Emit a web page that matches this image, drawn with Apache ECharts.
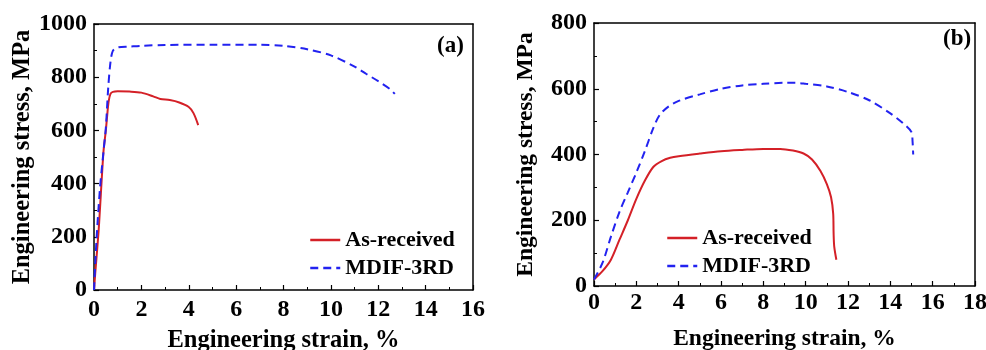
<!DOCTYPE html>
<html>
<head>
<meta charset="utf-8">
<script src="https://cdn.jsdelivr.net/npm/echarts@6/dist/echarts.min.js"></script>
<style>
html,body{margin:0;padding:0;background:#fff;}
#chart{width:986px;height:350px;}
</style>
</head>
<body>
<div id="chart"></div>
<script>
// Panel (a): strain (%) / stress (MPa) pairs
const aAsReceived = [[0,0],[0.05,60],[0.2,230],[0.4,520],[0.5,600],[0.55,650],[0.62,710],[0.7,738],[0.8,745],[1.0,747],[1.5,746],[2.0,742],[2.5,728],[2.8,718],[3.2,714],[3.6,705],[4.0,688],[4.2,665],[4.4,620]];
const aMdif = [[0,0],[0.1,180],[0.25,380],[0.4,520],[0.5,610],[0.6,760],[0.7,860],[0.8,900],[1.0,912],[1.5,915],[2,918],[3,921],[5,922],[7,922],[8,918],[9,905],[10,882],[11,840],[11.5,812],[12,785],[12.5,755],[12.7,737]];
// Panel (b)
const bAsReceived = [[0,20],[0.4,45],[0.8,80],[1.2,140],[1.6,200],[2.0,265],[2.4,320],[2.8,362],[3.2,380],[3.6,390],[4,395],[5,403],[6,410],[7,414],[8,417],[8.8,417],[9.4,412],[9.9,403],[10.3,385],[10.7,350],[11.0,310],[11.2,270],[11.3,220],[11.32,160],[11.35,120],[11.45,80]];
const bMdif = [[0,20],[0.4,70],[0.8,150],[1.2,225],[1.6,285],[2.0,345],[2.4,410],[2.8,480],[3.1,520],[3.5,545],[4,563],[5,583],[6,600],[7,610],[8,615],[9,618],[9.5,618],[10,615],[11,607],[12,590],[13,565],[14,525],[14.6,495],[15.0,468],[15.05,440],[15.08,400]];

const seriesNames = ['As-received', 'MDIF-3RD'];
const panelLabels = ['(a)', '(b)'];
const xTitle = 'Engineering strain, %';
const yTitle = 'Engineering stress, MPa';
const xMax = [16, 18];
const yMax = [1000, 800];

const RED = '#d42027';
const BLUE = '#2222f0';
const FONT = '"Liberation Serif", "Times New Roman", serif';
const titleSize = [24.5, 23.5];
const labelSize = 24;

const boxLine = {show: true, onZero: false, lineStyle: {color: '#000', width: 1.5}};
const tickIn = {show: true, inside: true, length: 5, lineStyle: {color: '#000', width: 1.2}};
const minorIn = {show: true, splitNumber: 2, length: 3, lineStyle: {color: '#000', width: 1}};

function xAxis(i) {
  return {
    type: 'value', gridIndex: i, min: 0, max: xMax[i], interval: 2,
    name: xTitle, nameLocation: 'middle', nameGap: i === 0 ? 38 : 41,
    nameTextStyle: {fontFamily: FONT, fontWeight: 'bold', fontSize: titleSize[i], color: '#000'},
    axisLine: boxLine, axisTick: tickIn, minorTick: minorIn,
    splitLine: {show: false},
    axisLabel: {fontFamily: FONT, fontWeight: 'bold', fontSize: labelSize, color: '#000', margin: i === 0 ? 8 : 5,
      formatter: v => String(v)}
  };
}
function yAxis(i) {
  return {
    type: 'value', gridIndex: i, min: 0, max: yMax[i], interval: 200,
    name: yTitle, nameLocation: 'middle', nameGap: i === 0 ? 54 : 56,
    nameTextStyle: {fontFamily: FONT, fontWeight: 'bold', fontSize: titleSize[i], color: '#000'},
    axisLine: boxLine, axisTick: tickIn, minorTick: minorIn,
    splitLine: {show: false},
    axisLabel: {fontFamily: FONT, fontWeight: 'bold', fontSize: labelSize, color: '#000', margin: 7,
      formatter: v => String(v)}
  };
}
// plain frame edges on the opposite sides of each plot
function xFrame(i) {
  return {type: 'value', gridIndex: i, position: 'top', min: 0, max: xMax[i],
    axisLine: boxLine, axisTick: {show: false}, axisLabel: {show: false}, splitLine: {show: false}};
}
function yFrame(i) {
  return {type: 'value', gridIndex: i, position: 'right', min: 0, max: yMax[i],
    axisLine: boxLine, axisTick: {show: false}, axisLabel: {show: false}, splitLine: {show: false}};
}
function line(name, data, idx, color, type) {
  return {
    name: name, type: 'line', xAxisIndex: idx, yAxisIndex: idx, data: data,
    showSymbol: false, symbol: 'none', smooth: 0.3, animation: false,
    lineStyle: {color: color, width: 2, type: type},
    itemStyle: {color: color}
  };
}
function legend(left, top) {
  return {
    left: left, top: top, orient: 'vertical', itemWidth: 30, itemHeight: 14, itemGap: 6,
    data: seriesNames, selectedMode: false,
    itemStyle: {opacity: 0},
    lineStyle: {width: 2.5},
    textStyle: {fontFamily: FONT, fontWeight: 'bold', fontSize: 22, color: '#000'}
  };
}

const chart = echarts.init(document.getElementById('chart'), null, {renderer: 'canvas'});
chart.setOption({
  backgroundColor: '#fff',
  animation: false,
  grid: [
    {left: 94, top: 24, width: 379, height: 266, containLabel: false, outerBoundsMode: 'none'},
    {left: 594, top: 23, width: 381, height: 263, containLabel: false, outerBoundsMode: 'none'}
  ],
  xAxis: [xAxis(0), xAxis(1), xFrame(0), xFrame(1)],
  yAxis: [yAxis(0), yAxis(1), yFrame(0), yFrame(1)],
  legend: [legend(304, 224), legend(661, 222)],
  graphic: [
    {type: 'text', left: 437, top: 35, style: {text: panelLabels[0], font: 'bold 23px ' + FONT, fill: '#000'}},
    {type: 'text', left: 943, top: 28, style: {text: panelLabels[1], font: 'bold 23px ' + FONT, fill: '#000'}}
  ],
  series: [
    line(seriesNames[0], aAsReceived, 0, RED, 'solid'),
    line(seriesNames[1], aMdif, 0, BLUE, [8, 5]),
    line(seriesNames[0], bAsReceived, 1, RED, 'solid'),
    line(seriesNames[1], bMdif, 1, BLUE, [8, 5])
  ]
});
</script>
</body>
</html>
